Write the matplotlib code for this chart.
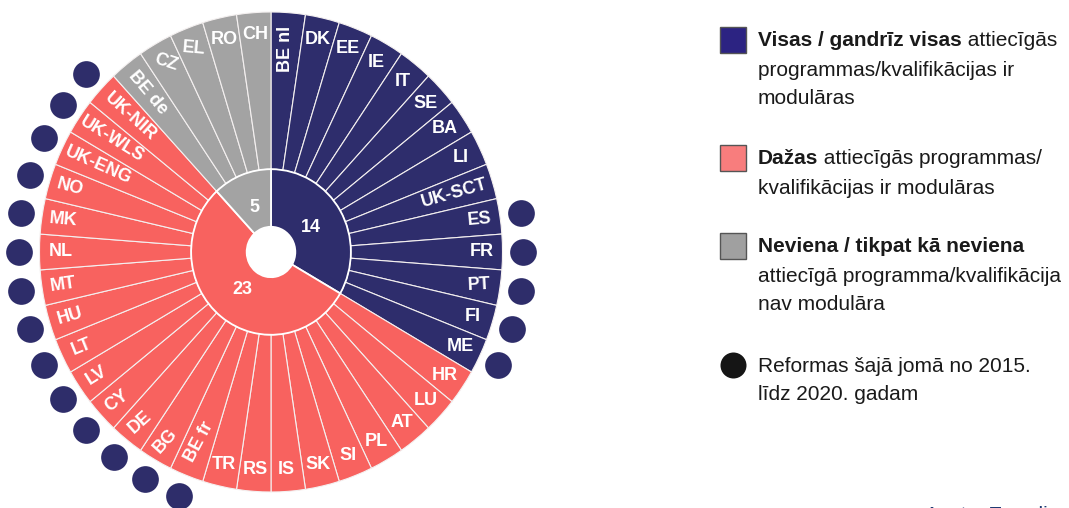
import numpy as np
import matplotlib.pyplot as plt
from matplotlib.patches import Rectangle

plt.rcParams['font.family'] = ['Liberation Sans', 'DejaVu Sans']

# countries clockwise from 12 o'clock
countries = ['BE nl', 'DK', 'EE', 'IE', 'IT', 'SE', 'BA', 'LI', 'UK-SCT', 'ES', 'FR', 'PT', 'FI', 'ME',
             'HR', 'LU', 'AT', 'PL', 'SI', 'SK', 'IS', 'RS', 'TR', 'BE fr', 'BG', 'DE', 'CY', 'LV',
             'LT', 'HU', 'MT', 'NL', 'MK', 'NO', 'UK-ENG', 'UK-WLS', 'UK-NIR',
             'BE de', 'CZ', 'EL', 'RO', 'CH']
group_counts = [14, 23, 5]
reforms = ['ES', 'FR', 'PT', 'FI', 'ME', 'BE fr', 'BG', 'DE', 'CY', 'LV', 'LT', 'HU', 'MT',
           'NL', 'MK', 'NO', 'UK-ENG', 'UK-WLS', 'UK-NIR']

legend_lines = [
    [[('Visas / gandrīz visas', 'bold'), (' attiecīgās', 'normal')],
     [('programmas/kvalifikācijas ir', 'normal')],
     [('modulāras', 'normal')]],
    [[('Dažas', 'bold'), (' attiecīgās programmas/', 'normal')],
     [('kvalifikācijas ir modulāras', 'normal')]],
    [[('Neviena / tikpat kā neviena', 'bold')],
     [('attiecīgā programma/kvalifikācija', 'normal')],
     [('nav modulāra', 'normal')]],
    [[('Reformas šajā jomā no 2015.', 'normal')],
     [('līdz 2020. gadam', 'normal')]],
]

# label rotation (degrees), one per country
label_rot = [90, 0, 0, 0, 0, 0, 0, 0, 16, 5, 0, 3, 0, 0,
             0, 0, 0, 0, 0, 0, 0, 0, 0, 62, 48, 42, 36, 32, 22, 16, 8, 0, -5, -15, -24, -32, -42,
             -50, -18, -5, 0, 0]

group_colors = ['#2e2d6c', '#f8625f', '#a3a3a3']
legend_colors = ['#2c2382', '#f87d7d', '#a0a0a0']
dot_color = '#2e2d6a'

fig = plt.figure(figsize=(10.69, 5.08), dpi=100)
ax = fig.add_axes([0, 0, 540 / 1069, 1])

country_colors = []
for c, n in zip(group_colors, group_counts):
    country_colors += [c] * n

outer, _ = ax.pie(np.ones(len(countries)), radius=1.0, startangle=90, counterclock=False,
                  colors=country_colors,
                  wedgeprops=dict(width=0.655, edgecolor='#f4f0f0', linewidth=0.8))
inner, _ = ax.pie(group_counts, radius=0.345, startangle=90, counterclock=False,
                  colors=group_colors,
                  wedgeprops=dict(width=0.24, edgecolor='white', linewidth=1.3))

for w, name, rot in zip(outer, countries, label_rot):
    mid = np.deg2rad((w.theta1 + w.theta2) / 2)
    r = 0.91 - 0.02 * (len(name) - 2)
    ax.text(r * np.cos(mid), r * np.sin(mid), name, color='white', fontsize=13,
            fontweight='bold', ha='center', va='center', rotation=rot,
            rotation_mode='anchor')

for w, n in zip(inner, group_counts):
    mid = np.deg2rad((w.theta1 + w.theta2) / 2)
    ax.text(0.2 * np.cos(mid), 0.2 * np.sin(mid), str(n), color='white', fontsize=13,
            fontweight='bold', ha='center', va='center')

dx, dy = [], []
for w, name in zip(outer, countries):
    if name in reforms:
        mid = np.deg2rad((w.theta1 + w.theta2) / 2)
        dx.append(1.09 * np.cos(mid))
        dy.append(1.09 * np.sin(mid))
ax.scatter(dx, dy, s=370, color=dot_color, clip_on=False, zorder=3, linewidths=0)

ax.set_aspect('auto')
ax.set_xlim(-1.1706, 1.162)
ax.set_ylim(-1.0667, 1.05)
ax.axis('off')

# legend, in pixel coordinates
lg = fig.add_axes([0, 0, 1, 1])
lg.set_xlim(0, 1069)
lg.set_ylim(508, 0)
lg.axis('off')

renderer = fig.canvas.get_renderer()
marker_y = [40, 158, 246, 365]
for i, (lines, my) in enumerate(zip(legend_lines, marker_y)):
    if i < 3:
        lg.add_patch(Rectangle((720, my - 13), 26, 26, facecolor=legend_colors[i],
                               edgecolor='#555555', linewidth=1))
    else:
        lg.scatter([733], [my], s=(26 * 0.72) ** 2, color='#151515', linewidths=0)
    for j, parts in enumerate(lines):
        x = 758
        y = my + 1 + 29 * j
        for txt, weight in parts:
            t = lg.text(x, y, txt, fontsize=15, fontweight=weight, color='#1a1a1a',
                        ha='left', va='center')
            bb = t.get_window_extent(renderer)
            x = bb.x1

# source note, cut by the bottom edge as in the original
lg.text(925, 521, 'Avots: Eurydice.', fontsize=15, color='#1f3b73', ha='left',
        va='baseline', clip_on=False)

fig.savefig('out.png', dpi=100)
